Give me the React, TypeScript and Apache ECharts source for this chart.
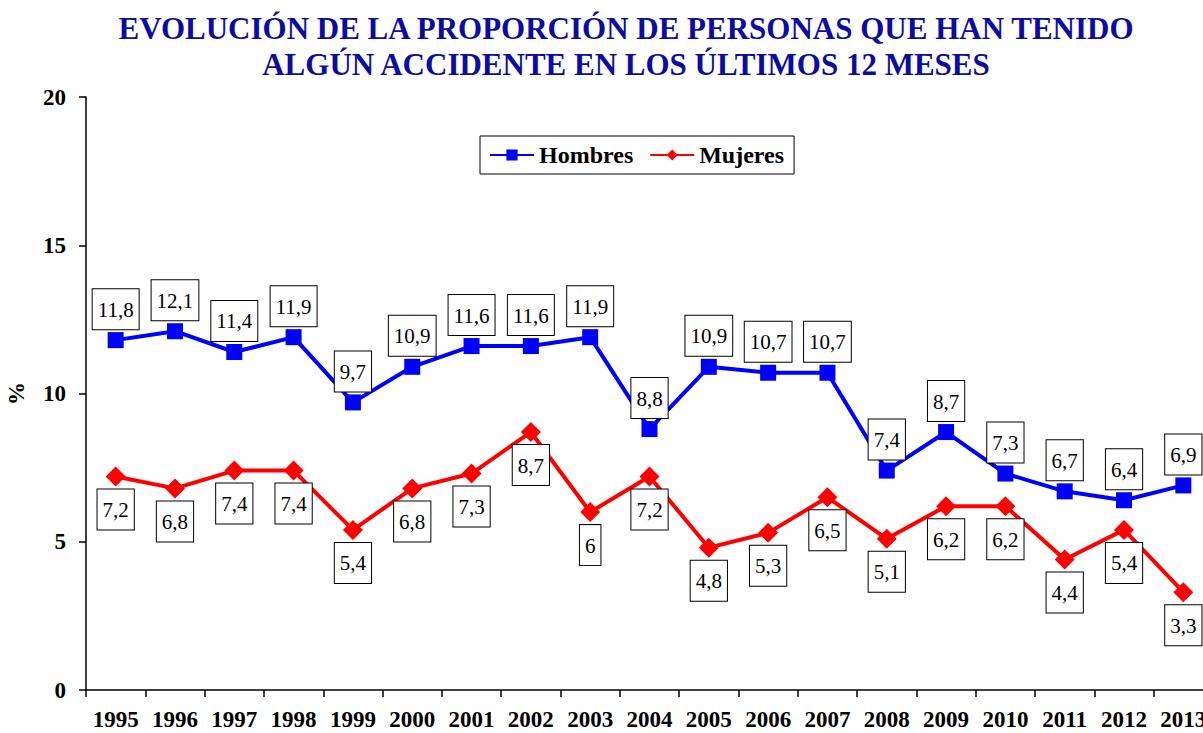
import React, { useEffect, useRef } from "react";
import * as echarts from "echarts";

const years = ["1995","1996","1997","1998","1999","2000","2001","2002","2003","2004","2005","2006","2007","2008","2009","2010","2011","2012","2013"];
const hombres = [11.8,12.1,11.4,11.9,9.7,10.9,11.6,11.6,11.9,8.8,10.9,10.7,10.7,7.4,8.7,7.3,6.7,6.4,6.9];
const mujeres = [7.2,6.8,7.4,7.4,5.4,6.8,7.3,8.7,6,7.2,4.8,5.3,6.5,5.1,6.2,6.2,4.4,5.4,3.3];
const yTicks = [0, 5, 10, 15, 20];

const FONT = "Liberation Serif";

export default function App() {
  const ref = useRef<HTMLDivElement>(null);
  useEffect(() => {
    if (!ref.current) return;
    const chart = echarts.init(ref.current, null, { renderer: "svg" });
    const fmt = (p: any) => String(p.value).replace(".", ",");
    const labelBox = {
      show: true,
      formatter: fmt,
      fontFamily: FONT,
      fontSize: 21,
      color: "#000",
      backgroundColor: "#fff",
      borderColor: "#000",
      borderWidth: 1,
      padding: [10, 5, 9, 5],
    };
    chart.setOption({
      animation: false,
      textStyle: { fontFamily: FONT },
      title: {
        text: "EVOLUCIÓN DE LA PROPORCIÓN DE PERSONAS QUE HAN TENIDO\nALGÚN ACCIDENTE EN LOS ÚLTIMOS 12 MESES",
        left: 621,
        textAlign: "center",
        top: 5,
        textStyle: {
          fontFamily: FONT,
          fontSize: 31,
          fontWeight: "bold",
          color: "#0c0ca0",
          lineHeight: 36,
        },
      },
      legend: {
        left: 480,
        top: 136,
        borderColor: "#000",
        borderWidth: 1,
        padding: [7, 10, 7, 9],
        itemWidth: 44,
        itemHeight: 14,
        itemGap: 16,
        textStyle: { fontFamily: FONT, fontSize: 24, fontWeight: "bold", color: "#000" },
        data: ["Hombres", "Mujeres"],
      },
      grid: { left: 86, top: 97, width: 1127, height: 593, containLabel: false, outerBoundsMode: "none" },
      xAxis: {
        type: "category",
        data: years,
        boundaryGap: true,
        axisLine: { lineStyle: { color: "#000", width: 1.5 } },
        axisTick: { show: true, length: 7, lineStyle: { color: "#000", width: 1.5 } },
        axisLabel: {
          fontFamily: FONT,
          fontSize: 23,
          fontWeight: "bold",
          color: "#000",
          margin: 18,
          interval: 0,
        },
      },
      yAxis: {
        type: "value",
        min: yTicks[0],
        max: yTicks[yTicks.length - 1],
        interval: 5,
        name: "%",
        nameLocation: "middle",
        nameGap: 58,
        nameRotate: 90,
        nameTextStyle: { fontFamily: FONT, fontSize: 23, fontWeight: "bold", color: "#000" },
        axisLine: { show: true, lineStyle: { color: "#000", width: 1.5 } },
        axisTick: { show: true, length: 7, lineStyle: { color: "#000", width: 1.5 } },
        splitLine: { show: false },
        axisLabel: {
          fontFamily: FONT,
          fontSize: 23,
          fontWeight: "bold",
          color: "#000",
          margin: 20,
        },
      },
      series: [
        {
          name: "Hombres",
          type: "line",
          data: hombres,
          symbol: "rect",
          symbolSize: 16,
          itemStyle: { color: "#0000ff" },
          lineStyle: { color: "#0000ff", width: 4 },
          label: { ...labelBox, position: "top", distance: 3 },
          z: 3,
        },
        {
          name: "Mujeres",
          type: "line",
          data: mujeres,
          symbol: "diamond",
          symbolSize: 20,
          itemStyle: { color: "#ff0000" },
          lineStyle: { color: "#ff0000", width: 4 },
          label: { ...labelBox, position: "bottom", distance: 3 },
          z: 2,
        },
      ],
    });
    return () => chart.dispose();
  }, []);
  return <div ref={ref} style={{ width: 1203, height: 733, position: "absolute", left: 0, top: 0 }} />;
}
